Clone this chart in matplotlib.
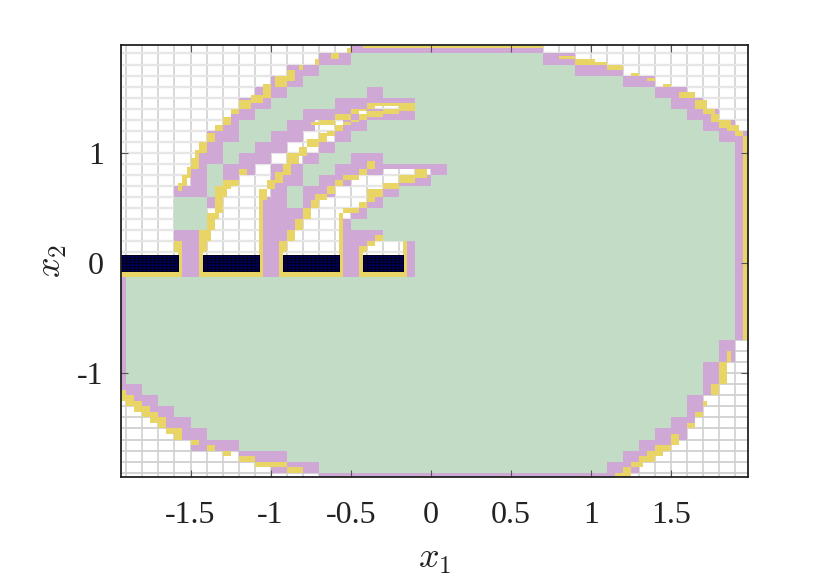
import numpy as np
import matplotlib
matplotlib.use('Agg')
import matplotlib.pyplot as plt
from matplotlib.colors import ListedColormap

plt.rcParams['font.family'] = ['Liberation Serif', 'DejaVu Serif']
plt.rcParams['mathtext.fontset'] = 'cm'
plt.rcParams['axes.unicode_minus'] = False

# all spans are in units of one coarse box (0.1), row key = lower edge of the row
BOX = 0.1
FINE = 4  # fine boxes per coarse box

x_ticks = [-1.5, -1, -0.5, 0, 0.5, 1, 1.5]
x_tick_labels = ['-1.5', '-1', '-0.5', '0', '0.5', '1', '1.5']
y_ticks = [-1, 0, 1]
y_tick_labels = ['-1', '0', '1']

green_rows = {
    18: [(-5, 7)], 17: [(-7, 9)], 16: [(-8, 12)], 15: [(-9, 14)], 14: [(-10, 15)],
    13: [(-11, 16)], 12: [(-12, -9), (-4, 17)], 11: [(-12, -10), (-5, 18)],
    10: [(-13, -11), (-6, 19)], 9: [(-13, -12), (-7, -5), (-3, 19)],
    8: [(-14, -13), (-8, -6), (1, 19)], 7: [(-14, -13), (-8, -7), (0, 19)],
    6: [(-14, -13), (-9, -8), (-2, 19)], 5: [(-16, -14), (-9, -8), (-3, 19)],
    4: [(-16, -14), (-4, 19)], 3: [(-16, -14), (-5, 19)], 2: [(-3, 19)],
    1: [(-1, 19)], 0: [(-1, 19)], -1: [(-1, 19)],
    -2: [(-19, 19)], -3: [(-19, 19)], -4: [(-19, 19)], -5: [(-19, 19)],
    -6: [(-19, 19)], -7: [(-19, 19)], -8: [(-19, 18)], -9: [(-19, 18)],
    -10: [(-19, 17)], -11: [(-19, 17)], -12: [(-18, 17)], -13: [(-17, 16)],
    -14: [(-16, 16)], -15: [(-15, 15)], -16: [(-14, 14)], -17: [(-12, 13)],
    -18: [(-9, 12)], -19: [(-7, 11)],
}

purple_rows = {
    19: [(-5, 7)], 18: [(-7, -5), (7, 9)], 17: [(-9, -7), (9, 12)],
    16: [(-10, -8), (12, 14)], 15: [(-11, -9), (-4, -3), (14, 16)],
    14: [(-12, -10), (-6, -1), (15, 17)], 13: [(-12.5, -11), (-8, -1), (16, 18)],
    12: [(-13, -12), (-9, -7.25), (-5.5, -4), (17, 19)],
    11: [(-14, -12), (-10, -8), (-6, -5), (18, 20)],
    10: [(-14, -13), (-11, -9), (-7, -6), (19, 20)],
    9: [(-14.5, -13), (-12, -10), (-8, -7), (-5, -3), (19, 20)],
    8: [(-15, -14), (-13, -11), (-10, -8), (-6, -3), (0, 1), (19, 20)],
    7: [(-15, -14), (-13, -12), (-10, -8), (-7, -5), (-2, 0), (19, 20)],
    6: [(-16, -14), (-10, -9), (-8, -6), (-3, -2), (19, 20)],
    5: [(-14, -13.5), (-10.5, -9), (-8, -7), (-4, -3), (19, 20)],
    4: [(-10.5, -8), (-5, -4), (19, 20)],
    3: [(-10.5, -8.5), (-5.5, -5), (19, 20)],
    2: [(-16, -14.5), (-10.5, -9), (-5.5, -3), (19, 20)],
    1: [(-16, -14.5), (-10.5, -9.5), (-5.5, -4), (-1.5, -1), (19, 20)],
    0: [(-15.5, -14.5), (-10.5, -9.5), (-5.5, -4.5), (-1.5, -1), (19, 20)],
    -1: [(-15.5, -14.5), (-10.5, -9.5), (-5.5, -4.5), (-1.5, -1), (19, 20)],
    -2: [(-20, -19), (19, 20)], -3: [(-20, -19), (19, 20)], -4: [(-20, -19), (19, 20)],
    -5: [(-20, -19), (19, 20)], -6: [(-20, -19), (19, 20)], -7: [(-20, -19), (19, 20)],
    -8: [(-20, -19), (18, 19)], -9: [(-20, -19), (18, 19)], -10: [(-20, -19), (17, 18)],
    -11: [(-20, -19), (17, 18)], -12: [(-20, -18), (17, 18)], -13: [(-19, -17), (16, 17)],
    -14: [(-18, -16), (16, 17)], -15: [(-17, -15), (15, 16.5)], -16: [(-16, -14), (14, 16)],
    -17: [(-15, -12), (13, 15)], -18: [(-12, -9), (12, 14)], -19: [(-10, -7), (11, 13)],
    -20: [(-7, 11.5)],
}

# finer boxes: (row low, row high, x low, x high)
purple_fine = [
    (8.5, 9, -3, 0), (-1.25, -1, -15.5, -14.5), (-1.25, -1, -10.5, -9.5),
    (-1.25, -1, -5.5, -4.5), (-1.25, -1, -1.5, -1),
]

yellow_outer = [
    (19, 19.5, -5.25, -5), (18.5, 19, -6.25, -5.75), (18, 18.5, -7.25, -7),
    (17.5, 18, -8.25, -8), (16.5, 17.5, -9, -8.5), (16, 17, -9.75, -9),
    (15, 16.25, -10.5, -10), (14.5, 15.25, -11.25, -10.5), (14, 14.75, -12, -11.25),
    (13.5, 14, -12.5, -12), (12.5, 13.25, -13, -12.5), (12, 12.5, -13.5, -13),
    (11, 11.75, -14, -13.5), (10, 11, -14.5, -14), (9.5, 10.25, -14.75, -14.5),
    (8.5, 9.5, -15, -14.5), (7.75, 8.75, -15.25, -15), (7, 8, -15.5, -15.25),
    (6.5, 7.25, -15.75, -15.5),
    (19.5, 20, -4.25, 7), (18.5, 18.75, 8, 9), (18, 18.5, 9, 10.25), (18, 18.25, 10, 11),
    (17.5, 18, 11, 12), (17, 17.25, 12.5, 13), (16.5, 16.75, 13.5, 14), (16, 16.25, 14.5, 15),
    (15, 15.5, 15.5, 16.5), (14, 14.75, 16.5, 17.25), (13.5, 14, 17, 17.75),
    (12.75, 13.5, 17.5, 18), (12.25, 13, 18, 18.75), (12, 12.5, 18.5, 19.25),
    (11.5, 12, 19, 19.5), (-7, 11.5, 19.5, 20),
    (-9, -8, 18.5, 18.75), (-11, -9, 18, 18.5), (-12, -11, 17.5, 18), (-13, -12.5, 17, 17.25),
    (-14, -13.5, 16.5, 17), (-15, -14.5, 16, 16.5), (-16.5, -15.5, 15, 15.5),
    (-17, -16.5, 14, 15), (-17.5, -17, 13.5, 14.5), (-18, -17.5, 13, 14),
    (-18.5, -18, 12.5, 13.25), (-19, -18.5, 12, 12.5), (-20, -19, 11.5, 12.5),
    (-12, -11.5, -20, -19), (-12.5, -12, -20, -18.5), (-13, -12.5, -19, -18),
    (-13.5, -13, -18.5, -17.5), (-14, -13.5, -18, -17), (-14.5, -14, -17.5, -16.5),
    (-15, -14.5, -17, -16.5), (-15.5, -15, -16.5, -15.5), (-16, -15.5, -16, -15.5),
    (-16.5, -16, -15, -14.5), (-17, -16.5, -14, -13.5), (-17.5, -17, -13, -12.5),
    (-18, -17.5, -12, -11), (-18.5, -18, -11, -9), (-19, -18.5, -9, -8),
]

yellow_inner = [
    (7, 7.5, -13, -12), (8, 8.5, -12, -11.5), (6.75, 7.25, -13, -12.5), (6, 7, -13.5, -12.75),
    (4.5, 6, -13.5, -13), (4, 4.5, -14, -13.25), (3, 4, -14, -13.5), (2, 3, -14.5, -13.75),
    (1, 2, -14.5, -14), (-1, 1, -14.5, -14.25), (1, 2, -16, -15.5), (-1, 1, -15.75, -15.5),
    (-1, 5.75, -10.75, -10.5),
    (5.75, 6.75, -10.75, -10.25), (6.75, 7.5, -10.25, -9.75), (7.25, 8.25, -9.75, -9.25),
    (8, 9, -9.25, -8.75), (9, 10, -9, -8.25), (9.75, 10.5, -8.25, -7.75),
    (10.5, 11.25, -7.75, -7), (11, 11.75, -7, -6.5), (11.5, 12, -6.5, -6), (12, 12.5, -6, -5.5),
    (12.5, 12.75, -5.5, -5), (12.75, 13, -5, -4.5), (13, 13.5, -4.5, -4), (13.25, 13.75, -4, -3),
    (13.5, 14, -3, -2), (13.75, 14.25, -2, -1),
    (12.5, 12.75, -7.5, -7), (12.5, 13, -7, -6), (13, 13.5, -6, -5), (13.5, 14, -5, -4),
    (14, 14.5, -4, -3), (14, 14.5, -3, -1),
    (8.5, 9.25, -4, -3.5), (8, 8.5, -4.5, -4), (7.5, 8, -5.5, -4.5), (7, 7.5, -6, -5.5),
    (6.25, 7, -6.5, -6), (5.75, 6.25, -7.25, -6.5), (5, 5.75, -7.5, -7), (4, 5, -8, -7.5),
    (3, 4, -8.5, -8), (2, 3, -9, -8.5), (1, 2, -9.5, -9), (-1, 1, -9.5, -9.25),
    (-1, 4.5, -5.75, -5.5), (4.5, 5, -5.5, -4.5), (5, 5.5, -4.5, -4), (6, 6.75, -4, -3),
    (5.5, 6, -4, -3.5), (6.75, 7.25, -3, -2), (7.25, 8, -2, -1), (7.75, 8.5, -1, -0.25),
    (-1, 1, -4.5, -4.25), (1, 1.5, -4.5, -4), (1.5, 2, -4, -3.5), (2, 2.5, -3.5, -3),
    (-1, 2, -1.75, -1.5),
    (-1.25, -0.75, -20, -15.5), (-1.25, -0.75, -14.5, -10.5),
    (-1.25, -0.75, -9.5, -5.5), (-1.25, -0.75, -4.5, -1.5),
]

# thin white slits between the two close curves
gaps = [
    (12.75, 13, -5.75, -5.5), (13.5, 13.75, -4.5, -4), (14, 14.25, -3.5, -2),
]

black_boxes = [
    (-0.75, 0.75, -20, -15.75), (-0.75, 0.75, -14.25, -10.75),
    (-0.75, 0.75, -9.25, -5.75), (-0.75, 0.75, -4.25, -1.75),
]


def to_idx(v):
    return int(round((v + 20) * FINE))


def paint(grid, box, code):
    r0, r1, c0, c1 = box
    grid[to_idx(r0):to_idx(r1), to_idx(c0):to_idx(c1)] = code


n = 40 * FINE
cells = np.zeros((n, n), dtype=int)
for row, spans in green_rows.items():
    for a, b in spans:
        paint(cells, (row, row + 1, a, b), 1)
for row, spans in purple_rows.items():
    for a, b in spans:
        paint(cells, (row, row + 1, a, b), 2)
for box in purple_fine:
    paint(cells, box, 2)
for box in yellow_outer + yellow_inner:
    paint(cells, box, 3)
for box in gaps:
    paint(cells, box, 0)

edges = (np.arange(n + 1) / FINE - 20) * BOX

fig = plt.figure(figsize=(8.3, 5.78), dpi=100)
ax = fig.add_axes([120.5 / 830, 1 - 477 / 578, 627.5 / 830, 432 / 578])

# coarse box outlines under the coloured boxes
grid_pos = np.arange(-19, 20) * BOX
for x in grid_pos:
    ax.axvline(x, color='#d4d4d4', lw=1.3, zorder=1)
for y in grid_pos:
    if y > 0:
        ax.axhline(y, color='#e6e6e6', lw=1.7, zorder=1)
    else:
        ax.axhline(y, color='#d0d0d0', lw=1.3, zorder=1)

cmap = ListedColormap(['#c2dcc6', '#d0a8d6', '#e9d466'])
ax.pcolormesh(edges, edges, np.ma.masked_equal(cells, 0), cmap=cmap, vmin=0.5, vmax=3.5,
              zorder=2)

# the finest boxes, each one outlined
for r0, r1, c0, c1 in black_boxes:
    ys = np.arange(r0, r1 + 0.01, 0.25) * BOX
    xs = np.arange(c0, c1 + 0.01, 0.25) * BOX
    ax.pcolormesh(xs, ys, np.zeros((len(ys) - 1, len(xs) - 1)), cmap=ListedColormap(['#00005a']),
                  edgecolors='#00001a', linewidth=0.4, zorder=3)

ax.set_xlim(-1.937, 1.98)
ax.set_ylim(-1.94, 1.977)
ax.set_xticks(x_ticks)
ax.set_xticklabels(x_tick_labels)
ax.set_yticks(y_ticks)
ax.set_yticklabels(y_tick_labels)
ax.tick_params(direction='in', length=5, width=0.8, color='#555555', labelsize=23,
               top=True, right=True, labelcolor='#222222')
ax.tick_params(axis='x', pad=17)
ax.tick_params(axis='y', pad=12)
ax.set_axisbelow(False)
for spine in ax.spines.values():
    spine.set_linewidth(1.3)
    spine.set_color('#222222')
    spine.set_zorder(5)

ax.set_xlabel(r'$x_1$', fontsize=26, labelpad=10, color='#222222')
ax.set_ylabel(r'$x_2$', fontsize=26, labelpad=6, color='#222222')

fig.savefig('out.png', dpi=100)
